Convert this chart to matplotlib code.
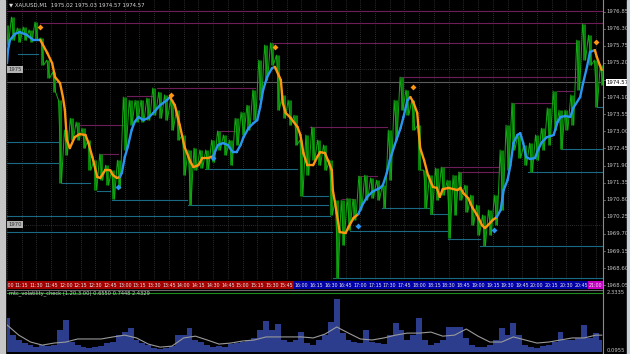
import matplotlib
matplotlib.use('Agg')
import matplotlib.pyplot as plt
from matplotlib.lines import Line2D
from matplotlib.patches import Rectangle

# XAUUSD M1, minutes after 11:00, one sample every 6 min (high / low)
bar_t = list(range(0, 607, 6))
bar_hi = [1976.42, 1976.67, 1976.32, 1976.35, 1976.26, 1976.51, 1976.00, 1975.29, 1974.90, 1974.00,
          1973.04, 1973.42, 1973.30, 1973.10, 1972.72, 1972.07, 1972.27, 1971.91, 1971.75, 1972.07,
          1974.10, 1974.00, 1974.00, 1974.00, 1974.07, 1974.39, 1974.26, 1974.17, 1974.00, 1973.68,
          1972.88, 1972.40, 1972.46, 1972.40, 1972.40, 1972.72, 1973.01, 1972.88, 1972.72, 1973.42,
          1973.62, 1973.84, 1974.33, 1975.29, 1975.77, 1975.84, 1975.45, 1974.17, 1974.00, 1973.52,
          1972.72, 1972.88, 1973.14, 1972.72, 1972.56, 1972.07, 1970.79, 1970.79, 1970.85, 1970.82,
          1971.56, 1971.59, 1971.50, 1971.43, 1971.27, 1973.04, 1974.00, 1974.74, 1974.33, 1974.00,
          1973.20, 1971.75, 1971.59, 1971.82, 1971.85, 1971.43, 1971.59, 1971.69, 1971.27, 1970.95,
          1970.63, 1970.31, 1970.47, 1970.95, 1972.40, 1973.20, 1973.91, 1972.88, 1972.56, 1972.62,
          1972.88, 1973.10, 1973.75, 1974.29, 1973.68, 1973.68, 1974.17, 1975.93, 1976.45, 1976.09,
          1975.29, 1975.13]
bar_lo = [1975.77, 1975.93, 1975.87, 1975.93, 1975.87, 1975.93, 1975.13, 1974.71, 1974.26, 1971.33,
          1972.24, 1972.72, 1972.72, 1972.46, 1971.75, 1971.11, 1971.43, 1971.27, 1970.82, 1971.17,
          1972.40, 1973.20, 1973.30, 1973.30, 1973.36, 1973.52, 1973.42, 1973.36, 1973.04, 1972.72,
          1971.59, 1970.63, 1971.75, 1971.82, 1971.79, 1972.01, 1972.40, 1972.24, 1971.91, 1972.56,
          1972.88, 1973.04, 1973.36, 1974.00, 1974.65, 1975.13, 1973.68, 1973.42, 1973.20, 1972.56,
          1970.92, 1971.59, 1972.07, 1971.91, 1971.75, 1970.31, 1968.28, 1969.34, 1969.82, 1970.15,
          1970.47, 1970.79, 1970.85, 1970.79, 1970.53, 1971.43, 1972.72, 1973.68, 1973.52, 1973.04,
          1971.75, 1970.53, 1970.34, 1970.79, 1970.95, 1969.57, 1970.31, 1970.79, 1970.40, 1969.98,
          1969.66, 1969.31, 1969.66, 1969.98, 1970.47, 1971.75, 1972.40, 1972.14, 1971.91, 1971.69,
          1972.07, 1972.40, 1972.56, 1973.04, 1972.43, 1973.04, 1973.20, 1974.33, 1975.29, 1975.13,
          1973.78, 1974.49]
last_price = 1974.57

# smoothed trend line (blue = up, orange = down)
ma_t = [0, 1, 3, 8, 13, 20, 27, 34, 41, 46, 49, 54, 57, 59, 61, 64, 69, 74, 80, 83, 87, 92, 95, 100,
        105, 108, 112, 115, 117, 120, 123, 127, 130, 134, 139, 144, 149, 156, 163, 166, 171, 176, 181,
        187, 190, 195, 199, 205, 210, 215, 220, 225, 230, 234, 238, 241, 246, 251, 255, 258, 261, 265,
        270, 273, 279, 281, 284, 289, 296, 299, 302, 306, 312, 316, 319, 324, 327, 331, 332, 336, 339,
        345, 348, 353, 358, 362, 367, 372, 380, 383, 387, 390, 395, 401, 404, 408, 411, 414, 418, 421,
        425, 429, 434, 438, 441, 444, 450, 459, 462, 465, 470, 474, 479, 484, 487, 490, 495, 499, 503,
        506, 510, 513, 516, 520, 523, 526, 529, 533, 538, 541, 545, 550, 557, 561, 564, 569, 574, 577,
        584, 587, 591, 594, 599, 601, 604, 606]
ma_p = [1975.19, 1975.61, 1975.93, 1976.13, 1976.19, 1976.10, 1975.93, 1975.93, 1975.52, 1975.19,
        1974.74, 1974.55, 1974.10, 1973.68, 1972.72, 1972.46, 1972.81, 1972.91, 1972.88, 1972.62,
        1972.17, 1971.53, 1971.50, 1971.75, 1971.75, 1971.59, 1971.50, 1971.53, 1971.66, 1972.17,
        1972.49, 1973.04, 1973.30, 1973.46, 1973.36, 1973.43, 1973.59, 1973.84, 1974.00, 1974.10,
        1973.84, 1973.20, 1972.49, 1972.01, 1971.85, 1971.91, 1972.14, 1972.14, 1972.20, 1972.56,
        1972.62, 1972.56, 1972.33, 1972.33, 1972.56, 1972.81, 1973.10, 1973.26, 1973.36, 1973.78,
        1974.33, 1974.74, 1975.03, 1975.07, 1974.65, 1973.91, 1973.59, 1973.43, 1973.14, 1972.88,
        1972.30, 1971.91, 1971.91, 1972.17, 1972.33, 1972.30, 1972.07, 1971.75, 1971.11, 1970.37,
        1969.76, 1969.73, 1969.92, 1970.21, 1970.34, 1970.63, 1970.89, 1971.05, 1971.18, 1971.27,
        1971.66, 1972.07, 1972.56, 1973.10, 1973.46, 1974.00, 1974.10, 1973.94, 1973.59, 1972.46,
        1972.07, 1971.59, 1971.21, 1971.18, 1970.89, 1971.14, 1971.18, 1971.11, 1971.18, 1971.01,
        1970.85, 1970.56, 1970.31, 1969.98, 1969.89, 1969.98, 1970.15, 1970.24, 1970.47, 1971.11,
        1971.43, 1971.91, 1972.62, 1972.88, 1972.94, 1972.62, 1972.17, 1972.11, 1972.14, 1972.40,
        1972.65, 1972.81, 1972.88, 1973.30, 1973.46, 1973.49, 1973.46, 1973.75, 1974.10, 1974.55,
        1975.07, 1975.55, 1975.61, 1975.39, 1975.13, 1974.97]
trend_flip_t = [34, 115, 166, 210, 273, 358, 411, 499, 599]

# signal diamonds
sell_t = [34, 167, 273, 414, 600]
sell_p = [1976.35, 1974.16, 1975.71, 1974.42, 1975.87]
buy_t = [113, 210, 358, 496]
buy_p = [1971.21, 1972.14, 1969.95, 1969.82]

# fractal levels: price, start, end (minutes)
res_p = [1976.87, 1976.48, 1974.13, 1974.39, 1973.20, 1972.27, 1973.01, 1975.84, 1973.14, 1970.82,
         1971.56, 1974.74, 1971.85, 1971.69, 1973.91, 1974.29]
res_t0 = [0, 34, 122, 153, 69, 95, 215, 268, 309, 341, 358, 400, 443, 460, 515, 560]
res_t1 = [607, 607, 149, 253, 120, 113, 232, 581, 387, 355, 377, 581, 500, 500, 558, 577]
sup_p = [1975.48, 1972.65, 1971.98, 1971.33, 1971.08, 1970.79, 1970.63, 1970.27, 1969.76, 1971.79,
         1970.92, 1968.28, 1970.53, 1970.34, 1969.79, 1969.53, 1969.31, 1971.69, 1972.43, 1973.78]
sup_t0 = [11, 0, 0, 56, 92, 107, 184, 0, 0, 202, 302, 332, 382, 431, 350, 449, 482, 531, 564, 601]
sup_t1 = [32, 54, 56, 85, 105, 183, 327, 329, 331, 296, 327, 607, 431, 449, 449, 482, 607, 607, 607, 607]

# volatility sub-window
vol_v = [1.35, 0.68, 0.49, 0.37, 0.29, 0.21, 0.29, 0.25, 0.29, 0.88, 1.27, 0.41, 0.29, 0.21, 0.17,
         0.21, 0.25, 0.37, 0.41, 0.68, 0.80, 0.96, 0.49, 0.37, 0.29, 0.17, 0.13, 0.17, 0.25, 0.68,
         0.68, 0.96, 0.49, 0.41, 0.29, 0.21, 0.25, 0.21, 0.33, 0.37, 0.41, 0.49, 0.57, 0.88, 1.23,
         0.88, 1.12, 0.49, 0.41, 0.49, 0.80, 0.37, 0.29, 0.49, 0.68, 1.19, 2.10, 0.76, 0.49, 0.41,
         0.37, 0.88, 0.41, 0.37, 0.33, 0.68, 1.16, 0.88, 0.49, 0.68, 1.35, 0.49, 0.29, 0.37, 0.49,
         1.00, 1.00, 1.00, 0.57, 0.29, 0.21, 0.21, 0.29, 0.49, 0.96, 0.68, 1.16, 0.68, 0.29, 0.21,
         0.17, 0.25, 0.29, 0.41, 0.80, 0.49, 0.49, 0.57, 1.08, 0.57, 0.76, 0.49]
volma_t = list(range(0, 601, 12)) + [606]
volma_v = [1.08, 0.68, 0.41, 0.29, 0.37, 0.41, 0.53, 0.53, 0.53, 0.61, 0.68, 0.57, 0.33, 0.21, 0.25,
           0.57, 0.64, 0.49, 0.33, 0.37, 0.45, 0.49, 0.61, 0.61, 0.61, 0.61, 0.57, 0.72, 1.00, 0.76,
           0.53, 0.49, 0.57, 0.68, 0.76, 0.76, 0.80, 0.64, 0.68, 0.92, 0.64, 0.41, 0.41, 0.61, 0.49,
           0.37, 0.41, 0.49, 0.57, 0.57, 0.68, 0.68]
vol_level = 2.3335
vol_low_label = 0.0955

# time axis
time_ticks = list(range(0, 601, 15))
time_labels = ['%d:%02d' % (11 + t // 60, t % 60) for t in time_ticks]
session_edges = [-10, 292.5, 592.5, 610]
session_cols = ['#a30000', '#0000a6', '#c400c4']
price_ticks = [round(1976.85 - 0.55 * k, 2) for k in range(17)]

W, H = 630, 354
XMAX = 607.3
fig = plt.figure(figsize=(W / 100, H / 100), dpi=100, facecolor='black')

# ---- main price window
ax = fig.add_axes([7 / W, 74 / H, 596 / W, 280 / H])
ax.set_facecolor('black')
ax.set_xlim(0, XMAX)
ax.set_ylim(1968.22, 1977.22)
ax.set_xticks([])
ax.set_yticks([])
for s in ax.spines.values():
    s.set_visible(False)

grid_kw = dict(color='#555555', lw=0.5, ls=(0, (1, 2)), zorder=1)
for t in time_ticks:
    ax.axvline(t, **grid_kw)
for p in [1975.0, 1970.0]:
    ax.axhline(p, **grid_kw)
    ax.text(1.2, p, '%d' % p, fontsize=3.8, color='#303030', va='center', ha='left', zorder=6,
            bbox=dict(facecolor='#b4b4b4', edgecolor='none', pad=0.7))

ax.axhline(last_price, color='#5c5c5c', lw=0.8, zorder=2)

for p, a, b in zip(res_p, res_t0, res_t1):
    ax.plot([a, b], [p, p], color='#6d1d58', lw=0.8, zorder=2)
for p, a, b in zip(sup_p, sup_t0, sup_t1):
    ax.plot([a, b], [p, p], color='#1b6a84', lw=0.8, zorder=2)

# price bars: high-low band with a saw-tooth stroke through the extremes
xs, ys = [], []
for i, t in enumerate(bar_t):
    xs += [t - 1.5, t + 1.5]
    ys += [bar_hi[i], bar_lo[i]]
xs.append(XMAX)
ys.append(last_price)
ax.vlines(bar_t, bar_lo, bar_hi, color='#087f08', lw=2.2, zorder=3)
ax.plot(xs, ys, color='#14a814', lw=0.7, zorder=3)

# trend line coloured by direction
for i in range(len(ma_t) - 1):
    n = sum(1 for f in trend_flip_t if f <= ma_t[i])
    col = '#2a95f0' if n % 2 == 0 else '#ff9610'
    ax.plot(ma_t[i:i + 2], ma_p[i:i + 2], color=col, lw=1.7, solid_capstyle='round', zorder=4)

ax.scatter(sell_t, sell_p, marker='D', s=9, color='#ff9610', zorder=5, linewidths=0)
ax.scatter(buy_t, buy_p, marker='D', s=9, color='#2a95f0', zorder=5, linewidths=0)

ax.text(0.004, 0.992, '\u25bc XAUUSD,M1  1975.02 1975.03 1974.57 1974.57', transform=ax.transAxes,
        fontsize=3.9, color='#d8d8d8', va='top', ha='left')

ytr = ax.get_yaxis_transform()
for p in price_ticks:
    ax.plot([1.0, 1.004], [p, p], color='#8a8a8a', lw=0.5, transform=ytr, clip_on=False)
    if abs(p - last_price) < 0.2:
        continue  # hidden behind the current price box
    ax.text(1.006, p, '%.2f' % p, transform=ytr, fontsize=3.9, color='#c4c4c4',
            va='center', ha='left', clip_on=False)
ax.text(1.006, last_price, '%.2f' % last_price, transform=ytr, fontsize=3.9, color='black',
        va='center', ha='left', clip_on=False, zorder=8,
        bbox=dict(facecolor='white', edgecolor='none', pad=0.5))

# ---- time strip
ts = fig.add_axes([7 / W, 65 / H, 596 / W, 8.5 / H])
ts.set_xlim(0, XMAX)
ts.set_ylim(0, 1)
ts.axis('off')
for k in range(len(session_cols)):
    ts.axvspan(session_edges[k], session_edges[k + 1], color=session_cols[k])
for t, lab in zip(time_ticks, time_labels):
    ts.text(t, 0.45, lab, ha='center', va='center', fontsize=3.4, color='#e8e8e8', clip_on=True)

fig.add_artist(Line2D([7 / W, 603 / W], [64 / H, 64 / H], color='#6a6a6a', lw=0.8))

# ---- volatility sub-window
sub = fig.add_axes([7 / W, 1 / H, 596 / W, 62 / H])
sub.set_facecolor('black')
sub.set_xlim(0, XMAX)
sub.set_ylim(-0.02, 2.41)
sub.set_xticks([])
sub.set_yticks([])
for s in sub.spines.values():
    s.set_visible(False)
sub.fill_between(bar_t, 0, vol_v, step='mid', color='#2b3d8c', lw=0)
sub.plot(volma_t, volma_v, color='#9a9a9a', lw=0.8)
sub.axhline(vol_level, color='#1c8c1c', lw=0.8)
sub.text(0.004, vol_level, 'mtc_volatility_check (1.20,3.00) 0.6550 0.7448 2.4329',
         transform=sub.get_yaxis_transform(), fontsize=3.7, color='#d0d0d0', va='center', ha='left')
str_ = sub.get_yaxis_transform()
for v in [vol_level, vol_low_label]:
    sub.text(1.006, v, '%.4f' % v, transform=str_, fontsize=3.8, color='#c4c4c4',
             va='center', ha='left', clip_on=False)

# window frame
fig.add_artist(Line2D([603 / W, 603 / W], [0, 1], color='#8a8a8a', lw=0.8))
fig.patches.append(Rectangle((0, 0), 5 / W, 1, transform=fig.transFigure, color='#c6c6c6', zorder=0))
fig.patches.append(Rectangle((627 / W, 0), 3 / W, 1, transform=fig.transFigure, color='#c8d0d8', zorder=0))

fig.savefig('out.png', dpi=100, facecolor='black')
